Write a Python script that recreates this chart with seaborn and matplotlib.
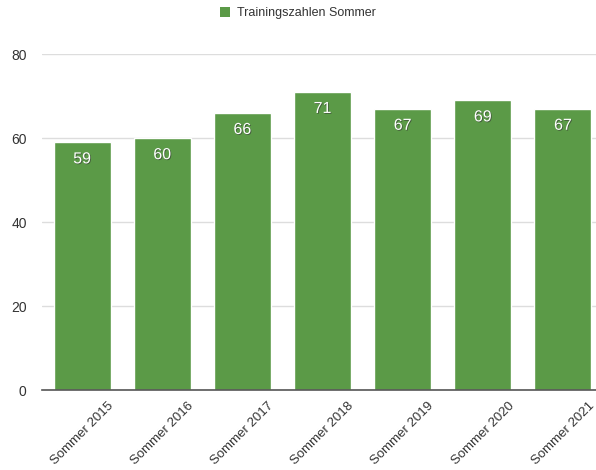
import numpy as np
import pandas as pd
import matplotlib
matplotlib.use('Agg')
import matplotlib.pyplot as plt
import matplotlib.patheffects as pe
from matplotlib.patches import Patch
import seaborn as sns

# Chart data
seasons = ['Sommer 2015', 'Sommer 2016', 'Sommer 2017', 'Sommer 2018',
           'Sommer 2019', 'Sommer 2020', 'Sommer 2021']
counts = [59, 60, 66, 71, 67, 69, 67]
series_name = 'Trainingszahlen Sommer'
y_ticks = [0, 20, 40, 60, 80]

bar_color = '#5b9a47'

sns.set_theme(style='white')
plt.rcParams['font.family'] = ['Liberation Sans', 'DejaVu Sans']

df = pd.DataFrame({'season': seasons, 'count': counts})

fig = plt.figure(figsize=(5.96, 4.70), dpi=100)
ax = fig.add_axes([42 / 596, 80 / 470, 561 / 596, 336 / 470])

sns.barplot(data=df, x='season', y='count', color=bar_color, saturation=1,
            width=0.71, ax=ax, zorder=3)

ax.set_xlim(-0.5, 6.5)
ax.set_ylim(0, 80)
ax.set_yticks(y_ticks)
ax.set_yticklabels([str(t) for t in y_ticks], fontsize=10, color='#333333')
ax.yaxis.grid(True, color='#dddddd', linewidth=1, zorder=0)
ax.tick_params(axis='y', length=0, pad=11)
ax.tick_params(axis='x', length=0, pad=7)
ax.set_xlabel('')
ax.set_ylabel('')
for lbl in ax.get_xticklabels():
    lbl.set_rotation(45)
    lbl.set_ha('center')
    lbl.set_fontsize(9.5)
    lbl.set_color('#333333')

for side in ['top', 'right', 'left']:
    ax.spines[side].set_visible(False)
ax.spines['bottom'].set_color('#555555')
ax.spines['bottom'].set_linewidth(1.2)
ax.spines['bottom'].set_zorder(4)

# value labels inside bars
for patch, val in zip(ax.patches, counts):
    cx = patch.get_x() + patch.get_width() / 2
    ax.annotate(str(val), (cx, val), xytext=(0, -12), textcoords='offset points',
                ha='center', va='center', fontsize=11.5, color='white', zorder=5,
                path_effects=[pe.withSimplePatchShadow(offset=(0.6, -0.6),
                                                       shadow_rgbFace='#333333', alpha=0.6)])

handles = [Patch(facecolor=bar_color, edgecolor='none')]
fig.legend(handles, [series_name], loc='center', bbox_to_anchor=(0.5, 1 - 13 / 470),
           frameon=False, fontsize=9, handlelength=0.8, handleheight=0.8,
           handletextpad=0.6, labelcolor='#333333')

fig.savefig('out.png', dpi=100)
